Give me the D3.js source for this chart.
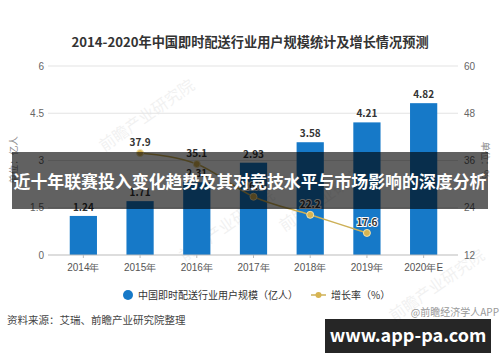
<!DOCTYPE html>
<html>
<head>
<meta charset="utf-8">
<script src="https://cdn.jsdelivr.net/npm/d3@7"></script>
<style>
  body { margin: 0; background: #fff; }
  svg { font-family: "Noto Sans CJK SC", "Noto Sans", sans-serif; }
</style>
</head>
<body>
<svg class="chart"></svg>
<script>
// Data
var years = ["2014年", "2015年", "2016年", "2017年", "2018年", "2019年", "2020年E"];
var users = [1.24, 1.71, 2.31, 2.93, 3.58, 4.21, 4.82];
var growthYears = ["2015年", "2016年", "2017年", "2018年", "2019年"];
var growth = [37.9, 35.1, 26.8, 22.2, 17.6];
var leftTicks = [0, 1.5, 3, 4.5, 6];
var rightTicks = [12, 24, 36, 48, 60];

var w = 500,
    h = 362;

var svg = d3.select(".chart")
    .attr("width", w)
    .attr("height", h);

var top0 = 66, bottom0 = 255, left0 = 48, right0 = 458;

var x = d3.scaleBand()
    .domain(years)
    .range([55, 452])
    .paddingInner(0.52)
    .paddingOuter(0.26);

var yL = d3.scaleLinear().domain([0, 6]).range([bottom0, top0]);
var yR = d3.scaleLinear().domain([12, 60]).range([bottom0, top0]);

// Title
svg.append("text")
    .attr("x", 250).attr("y", 47)
    .attr("text-anchor", "middle")
    .attr("font-size", 13.2)
    .attr("font-weight", "bold")
    .attr("fill", "#333")
    .text("2014-2020年中国即时配送行业用户规模统计及增长情况预测");

// Watermarks
[[150, 120], [330, 200], [440, 290], [230, 230]].forEach(function(p) {
    svg.append("text")
        .attr("transform", "translate(" + p[0] + "," + p[1] + ") rotate(-35)")
        .attr("text-anchor", "middle")
        .attr("font-size", 16)
        .attr("fill", "#000")
        .attr("opacity", 0.05)
        .text("前瞻产业研究院");
});

// Gridlines
svg.append("g")
    .selectAll("line")
    .data(leftTicks.slice(1))
    .enter().append("line")
    .attr("x1", left0).attr("x2", right0)
    .attr("y1", function(d) { return yL(d); })
    .attr("y2", function(d) { return yL(d); })
    .attr("stroke", "#e3e3e3");

// Left axis
var axisL = svg.append("g")
    .attr("transform", "translate(" + left0 + ",0)")
    .call(d3.axisLeft(yL).tickValues(leftTicks).tickFormat(function(d) { return d; }).tickSize(0).tickPadding(4));
axisL.select(".domain").remove();
axisL.selectAll("text").attr("fill", "#666").attr("font-size", 10).attr("font-family", null);

// Right axis
var axisR = svg.append("g")
    .attr("transform", "translate(" + (right0 + 2) + ",0)")
    .call(d3.axisRight(yR).tickValues(rightTicks).tickSize(0).tickPadding(4));
axisR.select(".domain").remove();
axisR.selectAll("text").attr("fill", "#666").attr("font-size", 10).attr("font-family", null);

// Axis titles
svg.append("text")
    .attr("transform", "translate(17,160) rotate(-90)")
    .attr("text-anchor", "middle")
    .attr("font-size", 9.5)
    .attr("fill", "#888")
    .text("单位：亿人");
svg.append("text")
    .attr("transform", "translate(482,160) rotate(90)")
    .attr("text-anchor", "middle")
    .attr("font-size", 9.5)
    .attr("fill", "#888")
    .text("单位：%");

// Bars
svg.append("g")
    .selectAll("rect")
    .data(users)
    .enter().append("rect")
    .attr("x", function(d, i) { return x(years[i]); })
    .attr("y", function(d) { return yL(d); })
    .attr("width", x.bandwidth())
    .attr("height", function(d) { return yL(0) - yL(d); })
    .attr("fill", "#1679c8");

svg.append("g")
    .selectAll("text")
    .data(users)
    .enter().append("text")
    .attr("x", function(d, i) { return x(years[i]) + x.bandwidth() / 2; })
    .attr("y", function(d) { return yL(d) - 5; })
    .attr("text-anchor", "middle")
    .attr("font-size", 10)
    .attr("font-weight", "bold")
    .attr("fill", "#333")
    .text(function(d) { return d.toFixed(2); });

// X axis
var axisX = svg.append("g")
    .attr("transform", "translate(0," + bottom0 + ")")
    .call(d3.axisBottom(x).tickSize(3).tickPadding(6));
axisX.select(".domain").attr("d", "M" + left0 + ",0H" + right0).attr("stroke", "#bbb");
axisX.selectAll("line").attr("stroke", "#bbb");
axisX.selectAll("text").attr("fill", "#555").attr("font-size", 10).attr("font-family", null);

// Growth line
var line = d3.line()
    .x(function(d, i) { return x(growthYears[i]) + x.bandwidth() / 2; })
    .y(function(d) { return yR(d); })
    .curve(d3.curveMonotoneX);

svg.append("path")
    .datum(growth)
    .attr("fill", "none")
    .attr("stroke", "#cdb057")
    .attr("stroke-width", 1.5)
    .attr("d", line);

svg.append("g")
    .selectAll("circle")
    .data(growth)
    .enter().append("circle")
    .attr("cx", function(d, i) { return x(growthYears[i]) + x.bandwidth() / 2; })
    .attr("cy", function(d) { return yR(d); })
    .attr("r", 3.5)
    .attr("fill", "#d7b451")
    .attr("stroke", "#f0e2b0")
    .attr("stroke-width", 1);

svg.append("g")
    .selectAll("text")
    .data(growth)
    .enter().append("text")
    .attr("x", function(d, i) { return x(growthYears[i]) + x.bandwidth() / 2; })
    .attr("y", function(d) { return yR(d) - 7; })
    .attr("text-anchor", "middle")
    .attr("font-size", 10)
    .attr("font-weight", "bold")
    .attr("fill", "#333")
    .attr("stroke", "#fff")
    .attr("stroke-width", 2)
    .attr("paint-order", "stroke")
    .text(function(d) { return d.toFixed(1); });

// Legend
svg.append("circle")
    .attr("cx", 128).attr("cy", 295).attr("r", 5)
    .attr("fill", "#1679c8");
svg.append("text")
    .attr("x", 138).attr("y", 299)
    .attr("font-size", 10)
    .attr("fill", "#333")
    .text("中国即时配送行业用户规模（亿人）");
svg.append("line")
    .attr("x1", 311).attr("x2", 326).attr("y1", 295).attr("y2", 295)
    .attr("stroke", "#cdb057").attr("stroke-width", 1.5);
svg.append("circle")
    .attr("cx", 318.5).attr("cy", 295).attr("r", 3)
    .attr("fill", "#d7b451");
svg.append("text")
    .attr("x", 331).attr("y", 299)
    .attr("font-size", 10)
    .attr("fill", "#333")
    .text("增长率（%）");

// Source
svg.append("text")
    .attr("x", 7).attr("y", 324)
    .attr("font-size", 10.5)
    .attr("fill", "#444")
    .text("资料来源：艾瑞、前瞻产业研究院整理");
svg.append("text")
    .attr("x", 499).attr("y", 316)
    .attr("text-anchor", "end")
    .attr("font-size", 10)
    .attr("fill", "#999")
    .text("@前瞻经济学人APP");

// Overlay banner
svg.append("rect")
    .attr("x", 12).attr("y", 152)
    .attr("width", 476).attr("height", 57)
    .attr("fill", "#000")
    .attr("opacity", 0.62);
svg.append("text")
    .attr("x", 250).attr("y", 188)
    .attr("text-anchor", "middle")
    .attr("font-size", 16.9)
    .attr("font-weight", "bold")
    .attr("fill", "#fff")
    .text("近十年联赛投入变化趋势及其对竞技水平与市场影响的深度分析");

svg.append("rect")
    .attr("x", 325).attr("y", 319)
    .attr("width", 166).attr("height", 34)
    .attr("fill", "#000")
    .attr("opacity", 0.85);
svg.append("text")
    .attr("x", 408).attr("y", 342)
    .attr("text-anchor", "middle")
    .attr("font-size", 18)
    .attr("font-weight", "bold")
    .attr("fill", "#fff")
    .text("www.app-pa.com");
</script>
</body>
</html>
